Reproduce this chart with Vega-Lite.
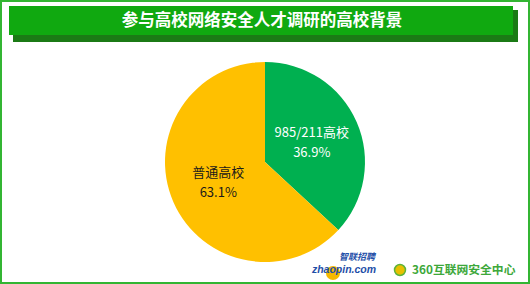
{
  "$schema": "https://vega.github.io/schema/vega-lite/v6.json",
  "width": 530,
  "height": 284,
  "autosize": {"type": "fit", "contains": "padding"},
  "padding": 0,
  "background": "#FFFFFF",
  "config": {
    "view": {"stroke": "#33B533", "strokeWidth": 4},
    "font": "Noto Sans CJK SC"
  },
  "datasets": {
    "schools": [
      {"学校类型": "985/211高校", "占比": 36.9, "order": 1},
      {"学校类型": "普通高校", "占比": 63.1, "order": 2}
    ]
  },
  "layer": [
    {
      "data": {"values": [{}]},
      "mark": {"type": "rect", "color": "#1B7A15"},
      "encoding": {
        "x": {"value": 13}, "x2": {"value": 518},
        "y": {"value": 10}, "y2": {"value": 42}
      }
    },
    {
      "data": {"values": [{}]},
      "mark": {"type": "rect", "color": "#10A910"},
      "encoding": {
        "x": {"value": 9}, "x2": {"value": 513},
        "y": {"value": 6}, "y2": {"value": 35}
      }
    },
    {
      "data": {"values": [{}]},
      "mark": {"type": "text", "color": "#FFFFFF", "fontSize": 16.5, "fontWeight": "bold", "align": "center", "baseline": "middle"},
      "encoding": {
        "x": {"value": 262}, "y": {"value": 21},
        "text": {"value": "参与高校网络安全人才调研的高校背景"}
      }
    },
    {
      "data": {"name": "schools"},
      "mark": {"type": "arc", "outerRadius": 100},
      "encoding": {
        "theta": {"field": "占比", "type": "quantitative", "stack": true},
        "order": {"field": "order", "type": "quantitative"},
        "color": {
          "field": "学校类型", "type": "nominal",
          "scale": {"domain": ["985/211高校", "普通高校"], "range": ["#00B050", "#FFC000"]},
          "legend": null
        },
        "y": {"value": 162}
      }
    },
    {
      "data": {"name": "schools"},
      "transform": [
        {"calculate": "datum['学校类型'] + '\\n' + format(datum['占比'], '.1f') + '%'", "as": "标签"}
      ],
      "mark": {"type": "text", "fontSize": 13, "lineBreak": "\n", "lineHeight": 20, "align": "center", "baseline": "middle", "dy": -9},
      "encoding": {
        "theta": {"field": "占比", "type": "quantitative", "stack": true},
        "order": {"field": "order", "type": "quantitative"},
        "radius": {"value": 51},
        "y": {"value": 162},
        "text": {"field": "标签", "type": "nominal"},
        "color": {"condition": {"test": "datum.order == 1", "value": "#FFFFFF"}, "value": "#1A1A1A"}
      }
    },
    {
      "data": {"values": [{}]},
      "mark": {"type": "circle", "color": "#F5B800", "size": 200, "opacity": 1},
      "encoding": {"x": {"value": 333}, "y": {"value": 273}}
    },
    {
      "data": {"values": [{}]},
      "mark": {"type": "text", "color": "#1F4FA8", "fontSize": 9, "fontWeight": "bold", "fontStyle": "italic", "align": "center", "baseline": "middle"},
      "encoding": {"x": {"value": 357}, "y": {"value": 257}, "text": {"value": "智联招聘"}}
    },
    {
      "data": {"values": [{}]},
      "mark": {"type": "text", "color": "#1F4FA8", "fontSize": 10.5, "fontWeight": "bold", "fontStyle": "italic", "font": "Liberation Sans", "align": "center", "baseline": "middle"},
      "encoding": {"x": {"value": 344}, "y": {"value": 270}, "text": {"value": "zhaopin.com"}}
    },
    {
      "data": {"values": [{}]},
      "mark": {"type": "circle", "color": "#E8C000", "stroke": "#5DB33A", "strokeWidth": 1.5, "size": 120, "opacity": 1},
      "encoding": {"x": {"value": 400}, "y": {"value": 270}}
    },
    {
      "data": {"values": [{}]},
      "mark": {"type": "text", "color": "#3DA83A", "fontSize": 11.8, "fontWeight": "bold", "align": "left", "baseline": "middle"},
      "encoding": {"x": {"value": 412}, "y": {"value": 270}, "text": {"value": "360互联网安全中心"}}
    }
  ]
}
